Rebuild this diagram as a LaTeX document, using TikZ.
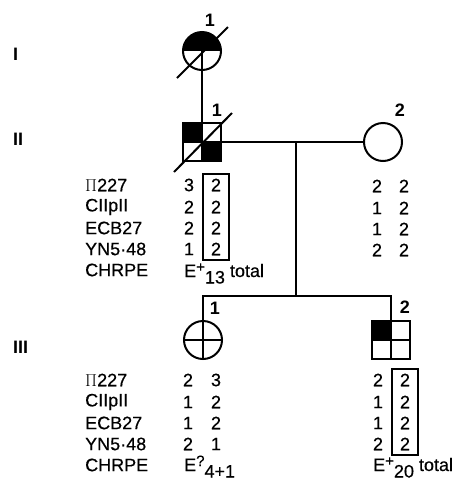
\documentclass[tikz,border=0pt]{standalone}
\usepackage{fontspec}
\setmainfont{Liberation Sans}
\newfontfamily\medium{Liberation Sans}[RawFeature={embolden=0.5}]
\usetikzlibrary{positioning,fit}
\tikzset{
 indiv/.style={draw,line width=2pt,inner sep=0pt,minimum size=38pt},
 fem/.style={indiv,circle},
 male/.style={indiv,rectangle,minimum size=38pt},
 cross/.style={path picture={\draw[line width=2pt] (path picture bounding box.north)--(path picture bounding box.south) (path picture bounding box.west)--(path picture bounding box.east);}},
 tophalf/.style={path picture={\fill (path picture bounding box.west) rectangle (path picture bounding box.north east);
   \draw[line width=2pt] (path picture bounding box.center)--(path picture bounding box.south);}},
 diagfill/.style={path picture={\fill (path picture bounding box.north west) rectangle (path picture bounding box.center) rectangle (path picture bounding box.south east);
   \draw[line width=2pt] (path picture bounding box.north)--(path picture bounding box.south) (path picture bounding box.west)--(path picture bounding box.east);}},
 cornerfill/.style={path picture={\fill (path picture bounding box.north west) rectangle (path picture bounding box.center);
   \draw[line width=2pt] (path picture bounding box.north)--(path picture bounding box.south) (path picture bounding box.west)--(path picture bounding box.east);}},
 num/.style={font=\bfseries\fontsize{18}{18}\selectfont,inner sep=0pt},
 gen/.style={font=\bfseries\fontsize{18}{18}\selectfont,inner sep=0pt,anchor=west},
 marker/.style={font=\medium\fontsize{18}{18}\selectfont,anchor=west,inner sep=0pt},
 val/.style={font=\medium\fontsize{18}{18}\selectfont,inner sep=0pt},
 pheno/.style={font=\medium\fontsize{18}{18}\selectfont,anchor=base west,inner sep=0pt},
 hapbox/.style={draw,line width=2pt,inner xsep=7.5pt,inner ysep=4.5pt},
 line/.style={line width=2pt}
}
\newcommand{\supp}[1]{\raisebox{5pt}{\fontsize{15}{15}\selectfont #1}}
\newcommand{\subb}[1]{\raisebox{-6.5pt}{#1}}

\begin{document}
\begin{tikzpicture}[x=1pt,y=-1pt]
\useasboundingbox (0,0) rectangle (461,480);
% generations
\node[gen] (gI) at (13,54) {I};
\node[gen] (gII) at (13,139) {II};
\node[gen] (gIII) at (13,347) {III};
% individuals
\node[fem,tophalf] (I1) at (202,51) {};
\node[male,diagfill] (II1) at (202,142) {};
\node[fem] (II2) at (383,142) {};
\node[fem,cross] (III1) at (203,340) {};
\node[male,cornerfill] (III2) at (391,340) {};
\node[num] (nI1) at (210,20) {1};
\node[num] (nII1) at (217,110) {1};
\node[num] (nII2) at (400,110) {2};
\node[num] (nIII1) at (215,308) {1};
\node[num] (nIII2) at (405,307) {2};
% deceased
\draw[line] ([shift={(-25,27)}]I1.center) -- ([shift={(26,-24)}]I1.center);
\draw[line] ([shift={(-28,30)}]II1.center) -- ([shift={(30,-29)}]II1.center);
% lines of descent
\coordinate (mate) at (296,142);
\coordinate (sib) at (296,296);
\draw[line] (I1) -- (II1);
\draw[line] (II1) -- (II2);
\draw[line] (mate) -- (sib);
\draw[line] (III1) |- (sib) -| (III2);
% haplotypes
\foreach \y/\m/\a/\b/\c/\d/\e/\f/\g/\h [count=\i] in {185/{\(\Pi\)227}/3/2/2/2/2/3/2/2,207/CIIpII/2/2/1/2/1/2/1/2,228/ECB27/2/2/1/2/1/2/1/2,249/YN5·48/1/2/2/2/2/1/2/2}{
 \node[marker] (mII\i) at (85,\y) {\m};
 \node[marker] (mIII\i) at (85,\y+195) {\m};
 \node[val] (pa\i) at (189,\y) {\a};
 \node[val] (pb\i) at (216,\y) {\b};
 \node[val] (qa\i) at (377,\y+1) {\c};
 \node[val] (qb\i) at (404,\y+1) {\d};
 \node[val] (ra\i) at (188,\y+195) {\e};
 \node[val] (rb\i) at (216,\y+195) {\f};
 \node[val] (sa\i) at (378,\y+195) {\g};
 \node[val] (sb\i) at (405,\y+195) {\h};
}
\node[marker] (mII5) at (85,270) {CHRPE};
\node[marker] (mIII5) at (85,465) {CHRPE};
\node[hapbox,fit=(pb1)(pb4)] (boxII1) {};
\node[hapbox,fit=(sb1)(sb4)] (boxIII2) {};
\node[pheno] (eII1) at (184,277) {E\supp{+}\subb{13} total};
\node[pheno] (eIII1) at (184,471) {E\supp{?}\subb{4+1}};
\node[pheno] (eIII2) at (373,471) {E\supp{+}\subb{20} total};
\end{tikzpicture}
\end{document}
